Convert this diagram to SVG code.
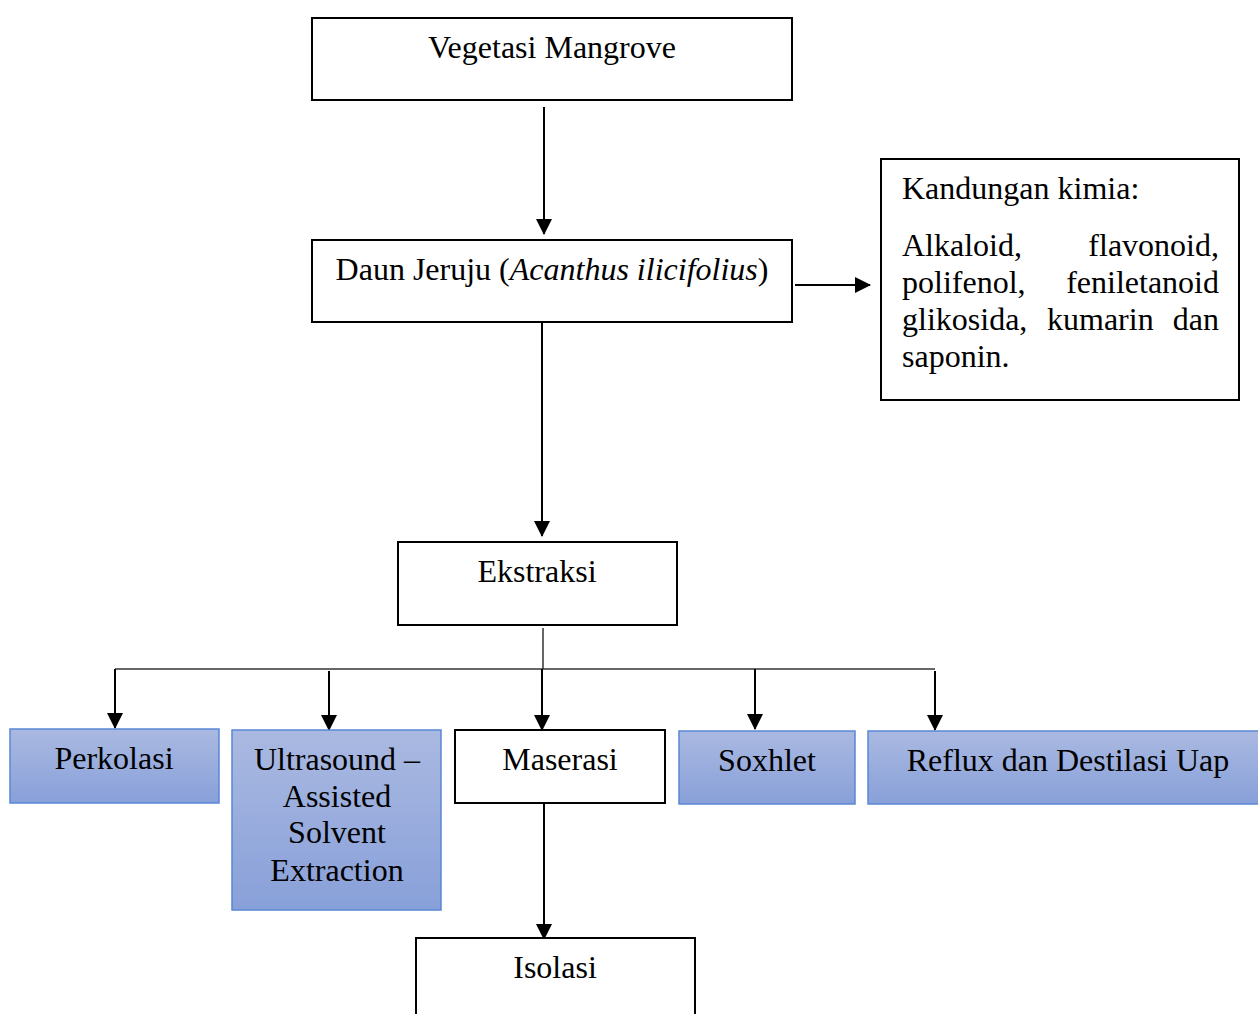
<svg xmlns="http://www.w3.org/2000/svg" width="1258" height="1014" viewBox="0 0 1258 1014">
<defs>
<linearGradient id="blue" x1="0" y1="0" x2="0" y2="1">
<stop offset="0" stop-color="#aab9e1"/>
<stop offset="1" stop-color="#88a0d9"/>
</linearGradient>
<marker id="ah" markerUnits="userSpaceOnUse" markerWidth="16" markerHeight="16" viewBox="0 0 16 16" refX="15" refY="8" orient="auto">
<path d="M0,0 L16,8 L0,16 Z" fill="#000"/>
</marker>
</defs>
<style>
.box{fill:#fff;stroke:#000;stroke-width:2}
.bbox{fill:url(#blue);stroke:#5a86d5;stroke-width:1.5}
.t{font-family:"Liberation Serif","Times New Roman",serif;font-size:32px;fill:#000}
.c{text-anchor:middle}
.e{text-anchor:end}
.ln{fill:none;stroke:#000;stroke-width:2}
.br{fill:none;stroke:#333;stroke-width:1.5}
</style>
<g id="connectors">
<line class="ln" x1="544" y1="107" x2="544" y2="234" marker-end="url(#ah)"/>
<line class="ln" x1="795" y1="285" x2="870" y2="285" marker-end="url(#ah)"/>
<line class="ln" x1="542" y1="322" x2="542" y2="536" marker-end="url(#ah)"/>
<line class="br" x1="543" y1="628" x2="543" y2="669"/>
<line class="br" x1="115" y1="669" x2="935" y2="669"/>
<line class="ln" x1="115" y1="669" x2="115" y2="728" marker-end="url(#ah)"/>
<line class="ln" x1="329" y1="671" x2="329" y2="730" marker-end="url(#ah)"/>
<line class="ln" x1="542" y1="669" x2="542" y2="730" marker-end="url(#ah)"/>
<line class="ln" x1="755" y1="669" x2="755" y2="729" marker-end="url(#ah)"/>
<line class="ln" x1="935" y1="671" x2="935" y2="730" marker-end="url(#ah)"/>
<line class="ln" x1="544" y1="803" x2="544" y2="939" marker-end="url(#ah)"/>
</g>
<g id="vegetasi">
<rect class="box" x="312" y="18" width="480" height="82"/>
<text class="t c" x="552" y="58">Vegetasi Mangrove</text>
</g>
<g id="daun">
<rect class="box" x="312" y="240" width="480" height="82"/>
<text class="t c" x="552" y="280">Daun Jeruju (<tspan font-style="italic">Acanthus ilicifolius</tspan>)</text>
</g>
<g id="kandungan">
<rect class="box" x="881" y="159" width="358" height="241"/>
<text class="t" x="902" y="199">Kandungan kimia:</text>
<text class="t" x="902" y="256">Alkaloid,</text>
<text class="t e" x="1219" y="256">flavonoid,</text>
<text class="t" x="902" y="293">polifenol,</text>
<text class="t e" x="1219" y="293">feniletanoid</text>
<text class="t" x="902" y="330">glikosida,</text>
<text class="t" x="1047" y="330">kumarin</text>
<text class="t e" x="1219" y="330">dan</text>
<text class="t" x="902" y="367">saponin.</text>
</g>
<g id="ekstraksi">
<rect class="box" x="398" y="542" width="279" height="83"/>
<text class="t c" x="537" y="582">Ekstraksi</text>
</g>
<g id="perkolasi">
<rect class="bbox" x="10" y="729" width="209" height="74"/>
<text class="t c" x="114" y="769">Perkolasi</text>
</g>
<g id="ultrasound">
<rect class="bbox" x="232" y="730" width="209" height="180"/>
<text class="t c" x="337" y="770">Ultrasound –</text>
<text class="t c" x="337" y="807">Assisted</text>
<text class="t c" x="337" y="843">Solvent</text>
<text class="t c" x="337" y="881">Extraction</text>
</g>
<g id="maserasi">
<rect class="box" x="455" y="730" width="210" height="73"/>
<text class="t c" x="560" y="770">Maserasi</text>
</g>
<g id="soxhlet">
<rect class="bbox" x="679" y="731" width="176" height="73"/>
<text class="t c" x="767" y="771">Soxhlet</text>
</g>
<g id="reflux">
<rect class="bbox" x="868" y="731" width="395" height="73"/>
<text class="t c" x="1068" y="771">Reflux dan Destilasi Uap</text>
</g>
<g id="isolasi">
<rect class="box" x="416" y="938" width="279" height="90"/>
<text class="t c" x="555" y="978">Isolasi</text>
</g>
</svg>
